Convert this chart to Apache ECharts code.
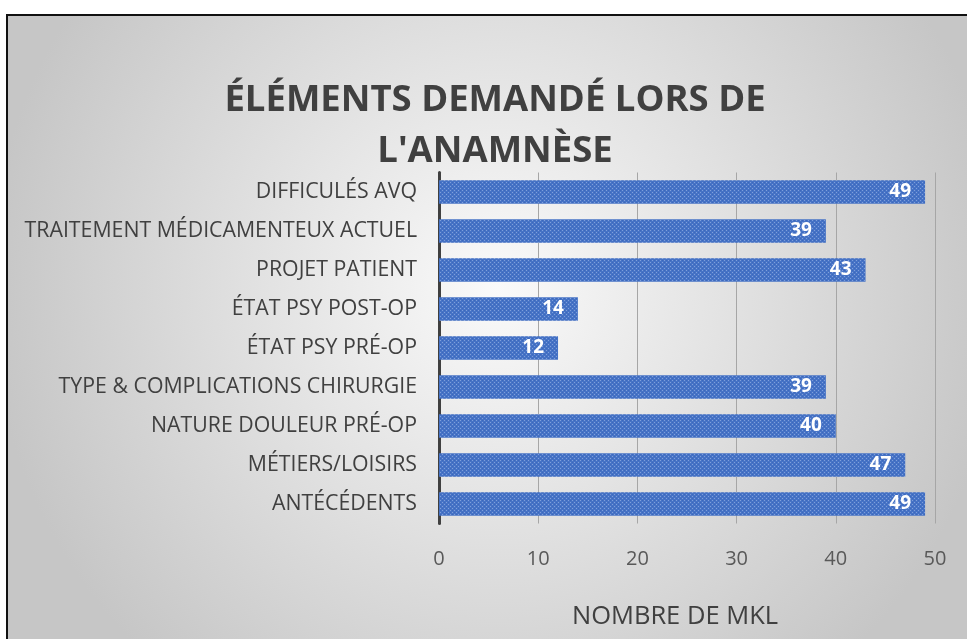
<!DOCTYPE html>
<html>
<head>
<meta charset="utf-8">
<script src="https://cdn.jsdelivr.net/npm/echarts@6/dist/echarts.min.js"></script>
<style>
  html, body { margin: 0; padding: 0; background: #fff; }
  #chart { width: 967px; height: 639px; }
</style>
</head>
<body>
<div id="chart"></div>
<script>
// categories, top to bottom
var categories = [
  'DIFFICULÉS AVQ',
  'TRAITEMENT MÉDICAMENTEUX ACTUEL',
  'PROJET PATIENT',
  'ÉTAT PSY POST-OP',
  'ÉTAT PSY PRÉ-OP',
  'TYPE & COMPLICATIONS CHIRURGIE',
  'NATURE DOULEUR PRÉ-OP',
  'MÉTIERS/LOISIRS',
  'ANTÉCÉDENTS'
];
var values = [49, 39, 43, 14, 12, 39, 40, 47, 49];
var xTicks = [0, 10, 20, 30, 40, 50];

// textured blue fill like the office pattern
function barPattern() {
  var c = document.createElement('canvas');
  c.width = 4; c.height = 4;
  var ctx = c.getContext('2d');
  ctx.fillStyle = '#4673c6';
  ctx.fillRect(0, 0, 4, 4);
  ctx.fillStyle = '#7f9fdb';
  ctx.fillRect(0, 0, 1, 1);
  ctx.fillRect(2, 2, 1, 1);
  ctx.fillStyle = '#3d68bb';
  ctx.fillRect(2, 0, 1, 1);
  ctx.fillRect(0, 2, 1, 1);
  return c;
}

var chart = echarts.init(document.getElementById('chart'));
var option = {
  backgroundColor: '#fff',
  animation: false,
  graphic: [{
    type: 'rect',
    z: -10,
    silent: true,
    shape: { x: 7, y: 15, width: 980, height: 650 },
    style: {
      fill: {
        type: 'radial', x: 0.5, y: 0.42, r: 0.78,
        colorStops: [
          { offset: 0, color: '#fafafa' },
          { offset: 1, color: '#c6c6c6' }
        ]
      },
      stroke: '#111',
      lineWidth: 2
    }
  }],
  title: {
    text: 'ÉLÉMENTS DEMANDÉ LORS DE\nL\'ANAMNÈSE',
    left: 490,
    top: 70,
    textAlign: 'center',
    textStyle: {
      fontFamily: 'Open Sans',
      fontWeight: 'bold',
      fontSize: 36.5,
      lineHeight: 51,
      color: '#404040'
    }
  },
  grid: { left: 439, right: 32, top: 172.5, bottom: 115.5, containLabel: false },
  xAxis: {
    type: 'value',
    min: 0,
    max: 50,
    interval: 10,
    name: 'NOMBRE DE MKL',
    nameLocation: 'middle',
    nameGap: 80,
    nameTextStyle: { fontFamily: 'Open Sans', fontSize: 25.5, color: '#404040', padding: [0, 24, 0, 0] },
    axisLine: { show: false },
    axisTick: { show: false },
    axisLabel: {
      margin: 26,
      fontFamily: 'Open Sans', fontSize: 20, color: '#595959',
      formatter: function (v) { return xTicks.indexOf(v) >= 0 ? String(v) : ''; }
    },
    splitLine: { lineStyle: { color: '#a6a6a6', width: 1 } }
  },
  yAxis: {
    type: 'category',
    inverse: true,
    data: categories,
    axisLine: { lineStyle: { color: '#404040', width: 3 } },
    axisTick: { show: false },
    axisLabel: {
      margin: 22,
      fontFamily: 'Open Sans', fontSize: 21.3, color: '#404040'
    }
  },
  series: [{
    type: 'bar',
    data: values,
    barWidth: '60%',
    itemStyle: { color: { image: barPattern(), repeat: 'repeat' } },
    label: {
      show: true,
      position: 'insideRight',
      distance: 14,
      fontFamily: 'Open Sans',
      fontWeight: 'bold',
      fontSize: 19,
      color: '#fff'
    }
  }]
};
chart.setOption(option);
</script>
</body>
</html>
